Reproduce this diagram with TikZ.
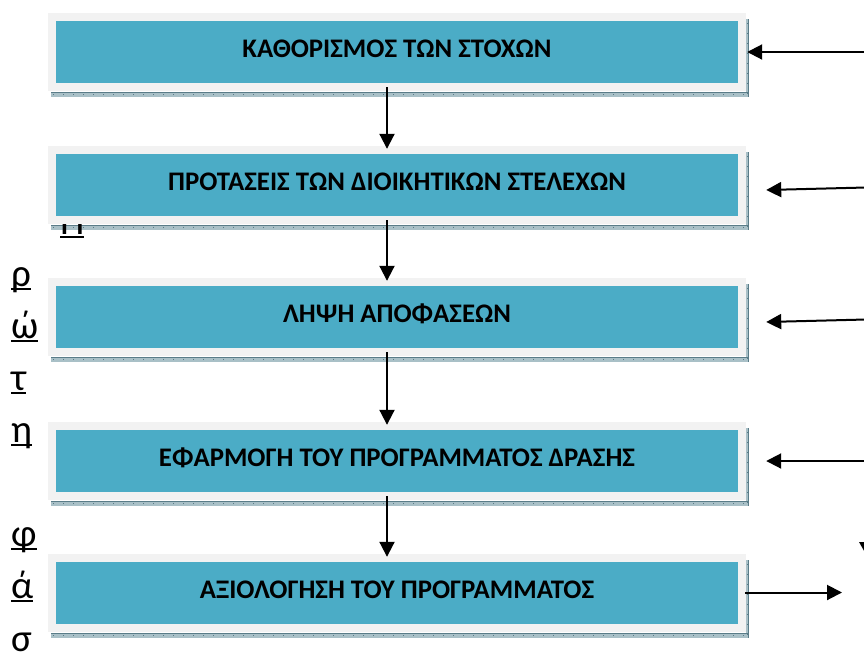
\documentclass[tikz,border=0pt]{standalone}
\usepackage{fontspec}
\setmainfont{Carlito}
\usetikzlibrary{arrows.meta}
\definecolor{tealbox}{HTML}{4BACC6}
\definecolor{framec}{HTML}{F2F2F2}
\definecolor{shadowc}{HTML}{A9C0C7}
\definecolor{tickc}{HTML}{5A7C88}
\newcommand\ulg[1]{\setbox0\hbox{#1}\rlap{\rule[-4.2pt]{\wd0}{2.4pt}}\box0}
\newcommand\stageshadow[1]{%
  \fill[shadowc] (51,{#1+79}) rectangle (749,{#1+84});
  \fill[shadowc] (745.5,{#1+6}) rectangle (749,{#1+84});
  \draw[tickc, line width=0.6pt] (51,{#1+79.3}) -- (749,{#1+79.3});
  \draw[tickc, line width=0.6pt] (748.7,{#1+6}) -- (748.7,{#1+84});
  \draw[tickc, line width=1pt, dash pattern=on 1pt off 9pt] (53,{#1+81.5}) -- (749,{#1+81.5});
  \draw[tickc, line width=1pt, dash pattern=on 1pt off 9pt] (747,{#1+10}) -- (747,{#1+84});
}
\newcommand\stagebox[3]{%
  \fill[framec] (48,#2) rectangle (746,{#2+78});
  \node[stagebox] (#1) at (397,{#2+39}) {};
  \node[stagetext] (#1t) at ([yshift=3pt]#1.center) {#3};
}
\begin{document}
\begin{tikzpicture}[x=1pt,y=-1pt,
  stagebox/.style={draw=none, fill=tealbox, minimum width=682pt, minimum height=62pt, inner sep=0pt},
  stagetext/.style={font=\fontsize{26.8}{30}\selectfont\bfseries, inner sep=0pt},
  sidel/.style={font=\fontsize{39}{44}\selectfont, anchor=base west, inner sep=0pt},
  arr/.style={line width=2pt, -{Triangle[length=15pt,width=15pt]}},
]
\useasboundingbox (0,0) rectangle (864,653);
\clip (0,0) rectangle (864,653);
\fill[white] (0,0) rectangle (864,653);

% shadows
\stageshadow{13}
\stageshadow{146}
\stageshadow{278}
\stageshadow{422}
\stageshadow{554}

% side letters
\node[sidel] (lP) at (60,234) {\ulg{Π}};
\node[sidel] (l1) at (11,286) {\ulg{ρ}};
\node[sidel] (l2) at (11,338) {\ulg{ώ}};
\node[sidel] (l3) at (11,390) {\ulg{τ}};
\node[sidel] (l4) at (11,442) {\ulg{η}};
\node[sidel] (l5) at (11,546) {\ulg{φ}};
\node[sidel] (l6) at (11,598) {\ulg{ά}};
\node[sidel] (l7) at (11,651) {σ};

% boxes
\stagebox{b1}{13}{ΚΑΘΟΡΙΣΜΟΣ ΤΩΝ ΣΤΟΧΩΝ}
\stagebox{b2}{146}{ΠΡΟΤΑΣΕΙΣ ΤΩΝ ΔΙΟΙΚΗΤΙΚΩΝ ΣΤΕΛΕΧΩΝ}
\stagebox{b3}{278}{ΛΗΨΗ ΑΠΟΦΑΣΕΩΝ}
\stagebox{b4}{422}{ΕΦΑΡΜΟΓΗ ΤΟΥ ΠΡΟΓΡΑΜΜΑΤΟΣ ΔΡΑΣΗΣ}
\stagebox{b5}{554}{ΑΞΙΟΛΟΓΗΣΗ ΤΟΥ ΠΡΟΓΡΑΜΜΑΤΟΣ}

% vertical arrows
\draw[arr] ([xshift=-10pt,yshift=-4pt]b1.south) -- ([xshift=-10pt,yshift=5pt]b2.north);
\draw[arr] ([xshift=-10pt,yshift=-4pt]b2.south) -- ([xshift=-10pt,yshift=5pt]b3.north);
\draw[arr] ([xshift=-10pt,yshift=-4pt]b3.south) -- ([xshift=-10pt,yshift=5pt]b4.north);
\draw[arr] ([xshift=-10pt,yshift=-4pt]b4.south) -- ([xshift=-10pt,yshift=5pt]b5.north);

% side arrows
\coordinate (r1) at (866,52);
\coordinate (r2) at (866,187.5);
\coordinate (r3) at (866,319.5);
\coordinate (r4) at (866,461);
\coordinate (r5) at (842,592.5);
\draw[arr] (r1) -- ([xshift=9pt]b1.east);
\draw[arr] (r2) -- ([xshift=28pt,yshift=-5pt]b2.east);
\draw[arr] (r3) -- ([xshift=28pt,yshift=-5pt]b3.east);
\draw[arr] (r4) -- ([xshift=28pt]b4.east);
\draw[arr] ([xshift=7pt,yshift=0.5pt]b5.east) -- (r5);
\fill (859,542) -- (876,542) -- (867.5,557) -- cycle;
\end{tikzpicture}
\end{document}
